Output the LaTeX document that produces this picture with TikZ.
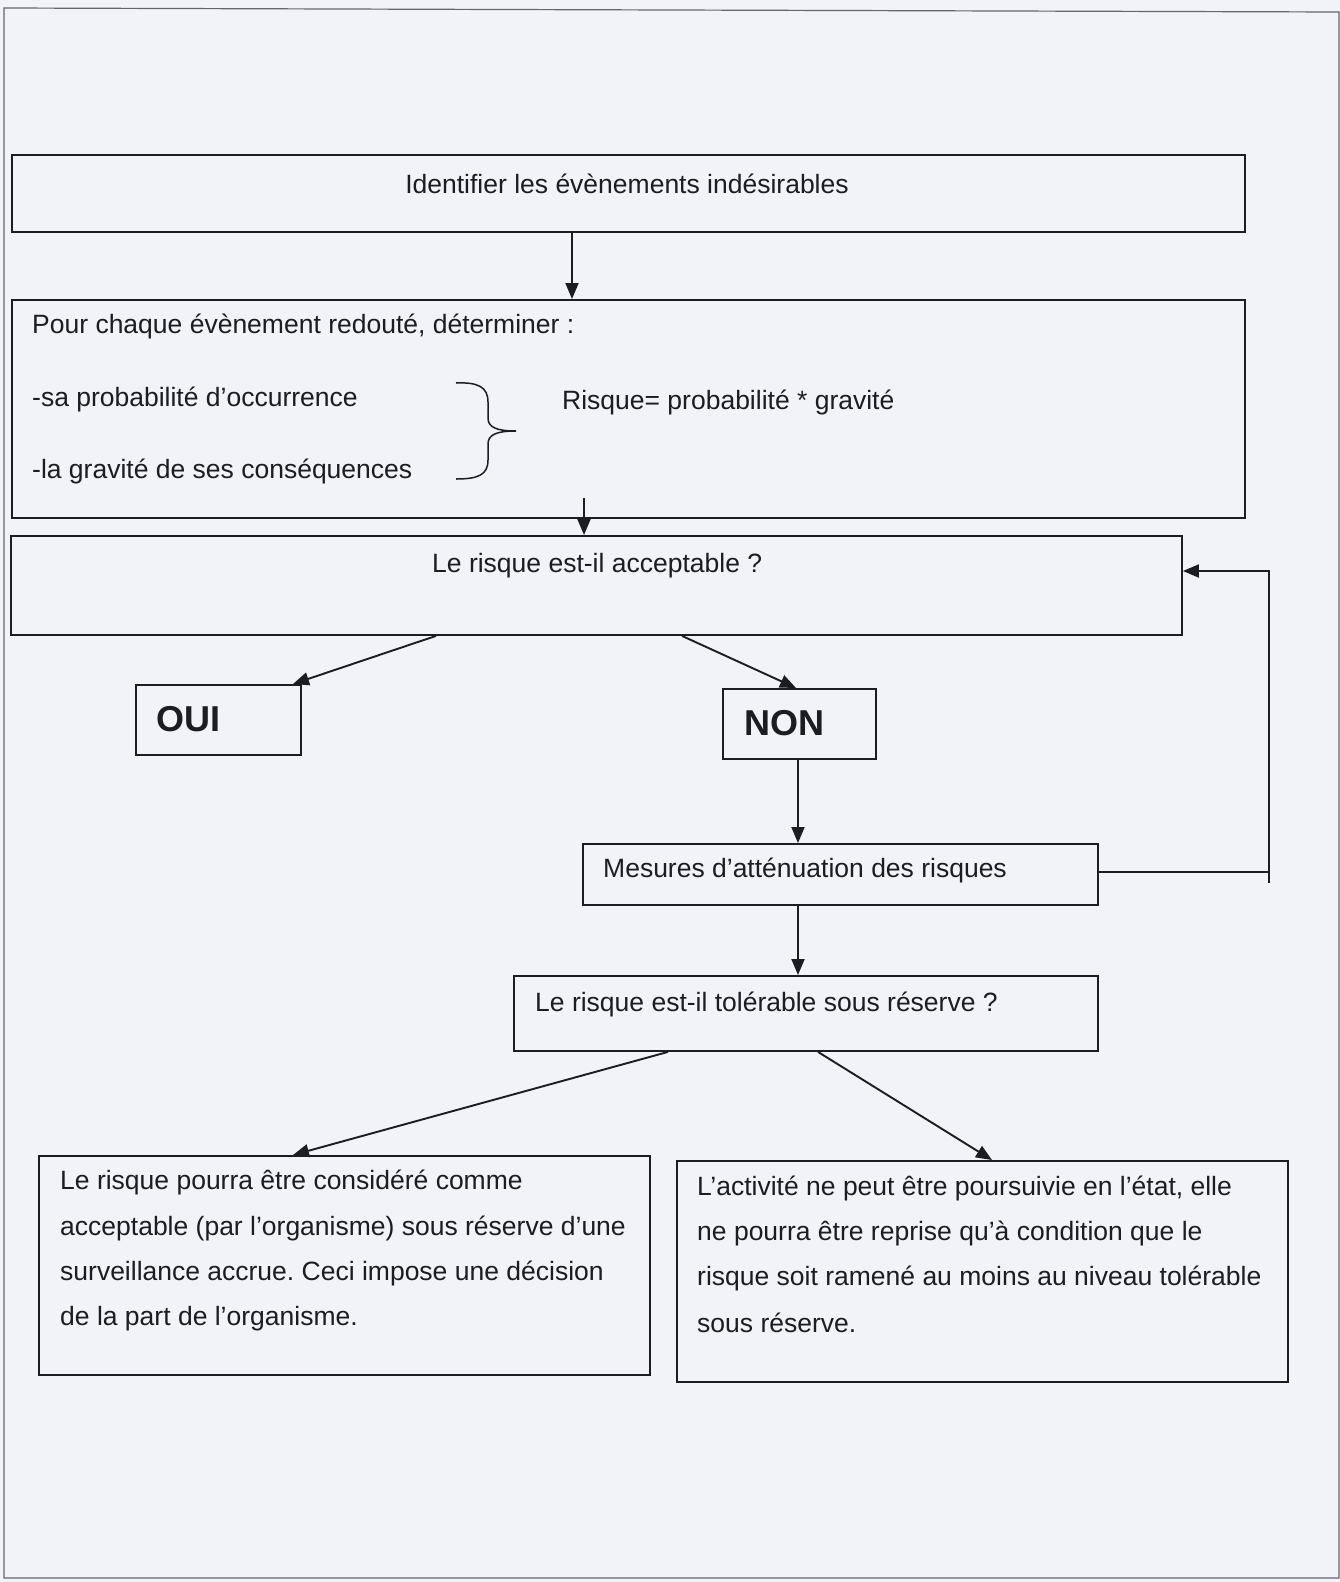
\documentclass[tikz,border=0pt]{standalone}
\usepackage{fontspec}
\setmainfont{Liberation Sans}
\usetikzlibrary{arrows.meta,calc}
\definecolor{paper}{RGB}{241,243,248}
\definecolor{ink}{RGB}{28,28,34}
\begin{document}
\frenchspacing
\begin{tikzpicture}[x=1pt,y=-1pt,
  box/.style={draw=ink,line width=1.9pt,anchor=north west,inner sep=0pt},
  txt/.style={anchor=west,inner sep=0pt,text=ink,font=\fontsize{26.5}{32}\selectfont},
  big/.style={anchor=west,inner sep=0pt,text=ink,font=\fontsize{36}{40}\selectfont\bfseries},
  arr/.style={draw=ink,line width=1.9pt,-{Triangle[length=16pt,width=13pt]}},
  ln/.style={draw=ink,line width=1.9pt}]
\useasboundingbox (0,0) rectangle (1340,1582);
\fill[paper] (0,0) rectangle (1340,1582);
\draw[gray!80!black,line width=1.2pt] (4,1578) -- (4,8) -- (1339,12) -- (1339,1578) -- cycle;

% boxes
\node[box,minimum width=1233pt,minimum height=77pt] (b1) at (11,154) {};
\node[box,minimum width=1233pt,minimum height=218pt] (b2) at (11,299) {};
\node[box,minimum width=1171pt,minimum height=99pt] (b3) at (10,535) {};
\node[box,minimum width=165pt,minimum height=70pt] (oui) at (135,684) {};
\node[box,minimum width=153pt,minimum height=70pt] (non) at (722,688) {};
\node[box,minimum width=515pt,minimum height=61pt] (mes) at (582,843) {};
\node[box,minimum width=584pt,minimum height=75pt] (tol) at (513,975) {};
\node[box,minimum width=611pt,minimum height=219pt] (bl) at (38,1155) {};
\node[box,minimum width=611pt,minimum height=221pt] (br) at (676,1160) {};

% texts
\node[txt,anchor=center] (t1) at (627,184) {Identifier les évènements indésirables};
\node[txt] (t2a) at (32,326) {Pour chaque évènement redouté, déterminer :};
\node[txt] (t2b) at (32,399) {-sa probabilité d’occurrence};
\node[txt] (t2c) at (32,471) {-la gravité de ses conséquences};
\node[txt] (t2d) at (562,402) {Risque= probabilité * gravité};
\node[txt] (t3) at (432,566) {Le risque est-il acceptable ?};
\node[big] (toui) at (156,719) {OUI};
\node[big] (tnon) at (744,723) {NON};
\node[txt] (tmes) at (603,870) {Mesures d’atténuation des risques};
\node[txt] (ttol) at (535,1004) {Le risque est-il tolérable sous réserve ?};
\node[txt] (l1) at (60,1182) {Le risque pourra être considéré comme};
\node[txt] (l2) at (60,1228) {acceptable (par l’organisme) sous réserve d’une};
\node[txt] (l3) at (60,1273) {surveillance accrue. Ceci impose une décision};
\node[txt] (l4) at (60,1319) {de la part de l’organisme.};
\node[txt] (r1) at (697,1188) {L’activité ne peut être poursuivie en l’état, elle};
\node[txt] (r2) at (697,1233) {ne pourra être reprise qu’à condition que le};
\node[txt] (r3) at (697,1278) {risque soit ramené au moins au niveau tolérable};
\node[txt] (r4) at (697,1323) {sous réserve.};

% brace
\draw[ln,line width=1.5pt] (456,383) .. controls (478,382) and (488,387) .. (488,402)
  -- (488,418) .. controls (488,427) and (496,431) .. (516,431)
  .. controls (496,431) and (488,435) .. (488,444)
  -- (488,460) .. controls (488,475) and (478,479) .. (456,479);

% connector anchor coordinates
\coordinate (x1) at (572,0);
\coordinate (s2) at (584,498);
\coordinate (x2) at (584,0);
\coordinate (x3a) at (436,0);
\coordinate (xoui) at (293,0);
\coordinate (x3b) at (682,0);
\coordinate (xnon) at (796,0);
\coordinate (xv) at (798,0);
\coordinate (fb1) at (1269,872);
\coordinate (fb0) at (1269,883);
\coordinate (fb2) at (1269,571);
\coordinate (xt1) at (668,0);
\coordinate (xbl) at (293,0);
\coordinate (xt2) at (818,0);
\coordinate (xbr) at (992,0);

% connectors
\draw[arr] (b1.south -| x1) -- (b2.north -| x1);
\draw[arr] (s2) -- (b3.north -| x2);
\draw[arr] (b3.south -| x3a) -- (oui.north -| xoui);
\draw[arr] (b3.south -| x3b) -- (non.north -| xnon);
\draw[arr] (non.south -| xv) -- (mes.north -| xv);
\draw[ln] (mes.east |- fb1) -- (fb1);
\draw[arr] (fb0) -- (fb2) -- (b3.east |- fb2);
\draw[arr] (mes.south -| xv) -- (tol.north -| xv);
\draw[arr] (tol.south -| xt1) -- (bl.north -| xbl);
\draw[arr] (tol.south -| xt2) -- (br.north -| xbr);
\end{tikzpicture}
\end{document}
